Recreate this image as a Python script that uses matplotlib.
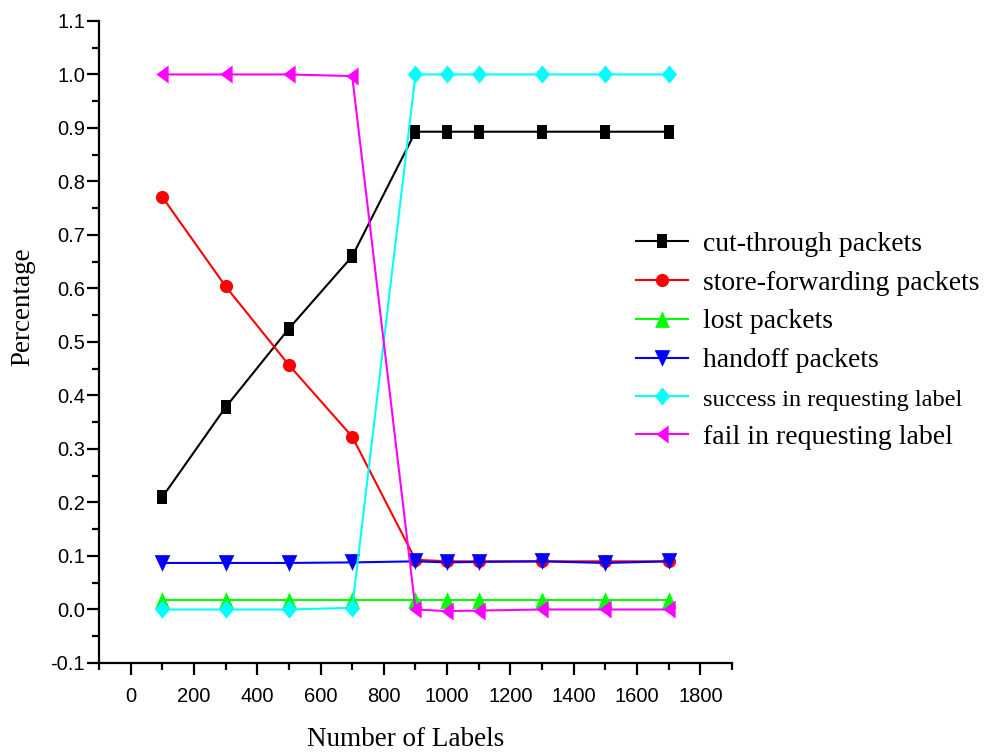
import matplotlib.pyplot as plt
from matplotlib.ticker import MultipleLocator

# dados
labels = [100, 300, 500, 700, 900, 1000, 1100, 1300, 1500, 1700]
cut_through = [0.21, 0.378, 0.525, 0.66, 0.893, 0.893, 0.893, 0.893, 0.893, 0.893]
store_fwd = [0.771, 0.604, 0.457, 0.323, 0.093, 0.09, 0.09, 0.09, 0.09, 0.09]
lost = [0.018, 0.018, 0.018, 0.018, 0.018, 0.018, 0.018, 0.018, 0.018, 0.018]
handoff = [0.087, 0.087, 0.087, 0.088, 0.09, 0.088, 0.089, 0.09, 0.087, 0.09]
success = [0.0, 0.0, 0.0, 0.003, 1.0, 1.0, 1.0, 1.0, 1.0, 1.0]
fail = [1.0, 1.0, 1.0, 0.997, 0.0, -0.003, -0.002, 0.0, 0.0, 0.0]

names = ["cut-through packets", "store-forwarding packets", "lost packets",
         "handoff packets", "success in requesting label", "fail in requesting label"]
series = [cut_through, store_fwd, lost, handoff, success, fail]
colors = ["black", "red", "#00ff00", "blue", "cyan", "magenta"]

# marcadores um pouco esticados na vertical, como no original
quad = [(-0.36, -0.5), (0.36, -0.5), (0.36, 0.5), (-0.36, 0.5)]
tri_up = [(0, 0.5), (-0.44, -0.5), (0.44, -0.5)]
tri_down = [(0, -0.5), (-0.47, 0.5), (0.47, 0.5)]
losango = [(0, 0.5), (0.42, 0), (0, -0.5), (-0.42, 0)]
tri_left = [(-0.34, 0), (0.34, 0.5), (0.34, -0.5)]
markers = [quad, "o", tri_up, tri_down, losango, tri_left]
msizes = [10, 9.5, 12, 12, 13, 13]

fig = plt.figure(figsize=(9.84, 7.54), dpi=100)
ax = fig.add_axes([0.1006, 0.1207, 0.6433, 0.8515])

for vals, name, c, m, ms in zip(series, names, colors, markers, msizes):
    ax.plot(labels, vals, color=c, marker=m, markersize=ms, linewidth=1.5,
            markeredgewidth=0, label=name)

ax.set_xlim(-100, 1900)
ax.set_ylim(-0.1, 1.1)
ax.xaxis.set_major_locator(MultipleLocator(200))
ax.xaxis.set_minor_locator(MultipleLocator(100))
ax.yaxis.set_major_locator(MultipleLocator(0.1))
ax.yaxis.set_minor_locator(MultipleLocator(0.05))
ax.yaxis.set_major_formatter(plt.FuncFormatter(lambda v, p: "%.1f" % v))

ax.spines["top"].set_visible(False)
ax.spines["right"].set_visible(False)
ax.spines["left"].set_linewidth(1.6)
ax.spines["bottom"].set_linewidth(1.6)
ax.tick_params(which="major", direction="out", length=8.5, width=1.6, labelsize=14.5)
ax.tick_params(which="minor", direction="out", length=5, width=1.6)
ax.tick_params(axis="y", which="major", pad=1.5)
ax.tick_params(axis="x", which="major", pad=9)
for t in ax.get_xticklabels() + ax.get_yticklabels():
    t.set_fontfamily("Liberation Sans")

ax.set_xlabel("Number of Labels", fontfamily="Liberation Serif", fontsize=19.5)
ax.set_ylabel("Percentage", fontfamily="Liberation Serif", fontsize=19.5)
ax.xaxis.set_label_coords(0.485, -0.1)
ax.yaxis.set_label_coords(-0.1, 0.555)

leg = fig.legend(loc="upper left", bbox_to_anchor=(0.646, 0.693), frameon=False,
                 prop={"family": "Liberation Serif", "size": 20},
                 borderpad=0, borderaxespad=0,
                 handlelength=1.87, labelspacing=0.48, handletextpad=0.54)
leg.get_texts()[4].set_fontsize(17.5)

fig.savefig("out.png", dpi=100)
